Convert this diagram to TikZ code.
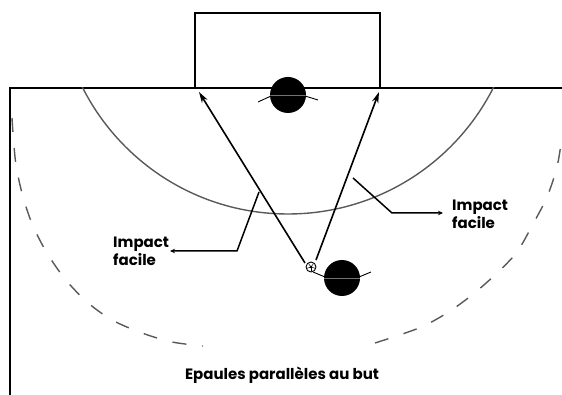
\documentclass[tikz,border=0pt]{standalone}
\usepackage{fontspec}
\setmainfont{Poppins}
\usetikzlibrary{arrows.meta}
\begin{document}
\begin{tikzpicture}[x=1pt,y=-1pt,
  court/.style={line width=1.9pt,black},
  goalframe/.style={line width=1.5pt,black},
  area/.style={line width=1.4pt,black!65},
  ninem/.style={line width=1.4pt,black!65,dash pattern=on 14pt off 16pt},
  shot/.style={line width=1.6pt,black,-{Stealth[length=11pt,width=6.5pt]}},
  leader/.style={line width=1.5pt,black,-{Stealth[length=5pt,width=4.5pt]}},
  player/.style={circle,fill=black,minimum size=36pt,inner sep=0pt},
  arm/.style={line width=0.9pt,black},
  shoulder/.style={line width=0.5pt,black!55},
  ball/.style={circle,draw=black,fill=white,line width=0.9pt,minimum size=10pt,inner sep=0pt},
  lbl/.style={font=\bfseries\fontsize{15}{18}\selectfont,align=left,inner sep=0pt}]
\useasboundingbox (0,0) rectangle (562,395);

% court lines
\draw[court] (10,395) -- (10,88) -- (562,88);
\draw[goalframe] (195,88) -- (195,13) -- (380,13) -- (380,88);

% 6 m area
\begin{scope}
  \clip (0,88) rectangle (562,395);
  \draw[area] (288,-16) circle[radius=230pt];
\end{scope}

% 9 m dashed line
\draw[ninem] plot[smooth] coordinates {(12,118) (13,133) (16,165) (23,197) (33,226) (47,253) (65,279) (87,302) (112,320) (142,333) (172,342) (203,346)};
\draw[ninem] plot[smooth] coordinates {(375,343) (419,328) (447,313) (472,295) (496,274) (517,252) (533,224) (547,197) (557,167) (562,137)};

% goalkeeper
\node[player] (gk) at (288,95) {};
\draw[shoulder] (gk.west) -- (gk.east);
\coordinate (gkL) at (258,102);
\coordinate (gkR) at (318,100);
\draw[arm] (gkL) -- (271,96);
\draw[arm] (305,96) -- (gkR);

% shooter
\node[player] (sh) at (342,278) {};
\draw[shoulder] (sh.west) -- (sh.east);
\draw[arm] (313,272) -- (325,277);
\draw[arm] (359,277) -- (371,272);

% ball
\node[ball] (ball) at (311,267) {};
\fill (ball.center) circle[radius=1.3pt];
\foreach \a in {90,162,234,306,18} \draw[line width=0.5pt] (ball.center) -- ++(\a:-4.2pt);

% shots
\coordinate (postL) at (199,92);
\coordinate (postR) at (379,92);
\coordinate (sL) at (305,263);
\coordinate (sR) at (316,260);
\draw[shot] (sL) -- (postL);
\draw[shot] (sR) -- (postR);

% leaders and labels
\node[lbl,anchor=west] (labL) at (113,251) {Impact\\facile};
\node[lbl,anchor=west] (labR) at (452,214) {Impact\\facile};
\coordinate (l1) at (259,192);
\coordinate (l2) at (237,251);
\coordinate (l3) at (170,251);
\draw[leader] (l1) -- (l2) -- (l3);
\coordinate (r1) at (353,178);
\coordinate (r2) at (392,213);
\coordinate (r3) at (443,213);
\draw[leader] (r1) -- (r2) -- (r3);

\node[lbl] (cap) at (282,375) {Epaules parallèles au but};
\end{tikzpicture}
\end{document}
